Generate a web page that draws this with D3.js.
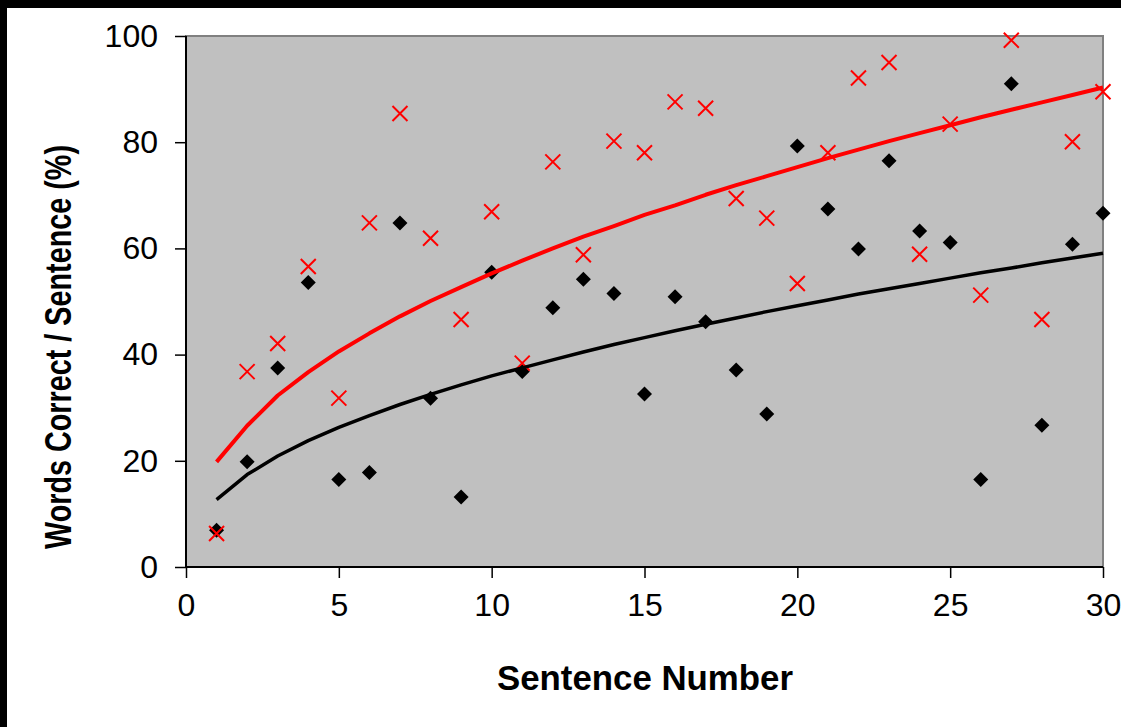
<!DOCTYPE html>
<html>
<head>
<meta charset="utf-8">
<script src="https://cdn.jsdelivr.net/npm/d3@7"></script>
<style>
  body { margin: 0; background: #fff; }
  svg { display: block; font-family: "Liberation Sans", Arial, sans-serif; }
</style>
</head>
<body>
<svg id="chart" width="1121" height="727"></svg>
<script>
// sentence numbers 1..30
const sentences = [1, 2, 3, 4, 5, 6, 7, 8, 9, 10, 11, 12, 13, 14, 15, 16, 17, 18, 19, 20, 21, 22, 23, 24, 25, 26, 27, 28, 29, 30];

// black diamonds
const blackVals = [6.9, 19.8, 37.5, 53.6, 16.5, 17.8, 64.8, 31.8, 13.2, 55.5,
  36.8, 48.8, 54.2, 51.5, 32.6, 50.9, 46.2, 37.1, 28.8, 79.3,
  67.4, 59.9, 76.5, 63.3, 61.1, 16.5, 91.0, 26.7, 60.8, 66.6];

// red crosses
const redVals = [6.3, 36.8, 42.1, 56.6, 31.8, 64.8, 85.4, 61.9, 46.6, 66.9,
  38.4, 76.3, 58.8, 80.2, 78.0, 87.6, 86.4, 69.4, 65.7, 53.4,
  78.0, 92.1, 95.0, 58.9, 83.4, 51.2, 99.2, 46.6, 80.1, 89.5];

// trend lines
const blackTrend = [12.7, 17.4, 20.9, 23.8, 26.3, 28.5, 30.6, 32.5, 34.3, 36.0,
  37.5, 39.0, 40.5, 41.9, 43.2, 44.5, 45.7, 46.9, 48.1, 49.2,
  50.3, 51.4, 52.4, 53.4, 54.4, 55.4, 56.3, 57.3, 58.2, 59.1];
const redTrend = [19.8, 26.6, 32.3, 36.7, 40.6, 44.0, 47.2, 50.1, 52.7, 55.3,
  57.7, 60.0, 62.2, 64.2, 66.3, 68.1, 70.1, 71.9, 73.6, 75.3,
  77.0, 78.6, 80.2, 81.7, 83.2, 84.7, 86.1, 87.5, 88.9, 90.3];

const xTicks = [0, 5, 10, 15, 20, 25, 30];
const yTicks = [0, 20, 40, 60, 80, 100];

const svg = d3.select('#chart');

// black frame strips on top and left
svg.append('rect').attr('x', 0).attr('y', 0).attr('width', 1121).attr('height', 8).attr('fill', '#000');
svg.append('rect').attr('x', 0).attr('y', 0).attr('width', 7).attr('height', 727).attr('fill', '#000');

const plotL = 186, plotR = 1103, plotT = 36, plotB = 567;

const x = d3.scaleLinear().domain([0, 30]).range([plotL, plotR]);
const y = d3.scaleLinear().domain([0, 100]).range([plotB, plotT]);

// plot area
svg.append('rect')
  .attr('x', plotL).attr('y', plotT)
  .attr('width', plotR - plotL).attr('height', plotB - plotT)
  .attr('fill', '#c0c0c0')
  .attr('stroke', '#808080')
  .attr('stroke-width', 2);

// axes
const yAxis = svg.append('g')
  .attr('transform', `translate(${plotL},0)`)
  .call(d3.axisLeft(y).tickValues(yTicks).tickSize(11).tickPadding(17));
const xAxis = svg.append('g')
  .attr('transform', `translate(0,${plotB})`)
  .call(d3.axisBottom(x).tickValues(xTicks).tickSize(11).tickPadding(15));

[xAxis, yAxis].forEach(a => {
  a.select('.domain').attr('stroke', '#000').attr('stroke-width', 2);
  a.selectAll('.tick line').attr('stroke', '#000').attr('stroke-width', 1.5);
  a.selectAll('.tick text')
    .attr('fill', '#000')
    .style('font-family', '"Liberation Sans", Arial, sans-serif')
    .style('font-size', '32px');
});
// domain lines without the outer tick caps
yAxis.select('.domain').attr('d', `M0,${plotT}V${plotB}`);
xAxis.select('.domain').attr('d', `M${plotL},0H${plotR}`);

const g = svg.append('g');

// black diamonds
const diamond = 'M0,-7.5L7.5,0L0,7.5L-7.5,0Z';
g.selectAll('path.blk')
  .data(sentences)
  .enter()
  .append('path')
  .attr('class', 'blk')
  .attr('d', diamond)
  .attr('transform', (d, i) => `translate(${x(d)},${y(blackVals[i])})`)
  .attr('fill', '#000');

// red crosses
const cross = 'M-7.5,-7.5L7.5,7.5M-7.5,7.5L7.5,-7.5';
g.selectAll('path.red')
  .data(sentences)
  .enter()
  .append('path')
  .attr('class', 'red')
  .attr('d', cross)
  .attr('transform', (d, i) => `translate(${x(d)},${y(redVals[i])})`)
  .attr('fill', 'none')
  .attr('stroke', '#ff0000')
  .attr('stroke-width', 2);

// trend lines
const line = vals => d3.line()
  .x(d => x(d))
  .y((d, i) => y(vals[i]))(sentences);

g.append('path')
  .attr('d', line(blackTrend))
  .attr('fill', 'none')
  .attr('stroke', '#000')
  .attr('stroke-width', 3.5)
  .attr('stroke-linejoin', 'round');

g.append('path')
  .attr('d', line(redTrend))
  .attr('fill', 'none')
  .attr('stroke', '#ff0000')
  .attr('stroke-width', 4)
  .attr('stroke-linejoin', 'round');

// axis titles
svg.append('text')
  .attr('x', 645).attr('y', 690)
  .attr('text-anchor', 'middle')
  .attr('textLength', 296)
  .attr('lengthAdjust', 'spacingAndGlyphs')
  .style('font-size', '35px')
  .style('font-weight', 'bold')
  .text('Sentence Number');

svg.append('text')
  .attr('transform', 'translate(71,347) rotate(-90)')
  .attr('text-anchor', 'middle')
  .attr('textLength', 404)
  .attr('lengthAdjust', 'spacingAndGlyphs')
  .style('font-size', '36px')
  .style('font-weight', 'bold')
  .text('Words Correct / Sentence (%)');
</script>
</body>
</html>
